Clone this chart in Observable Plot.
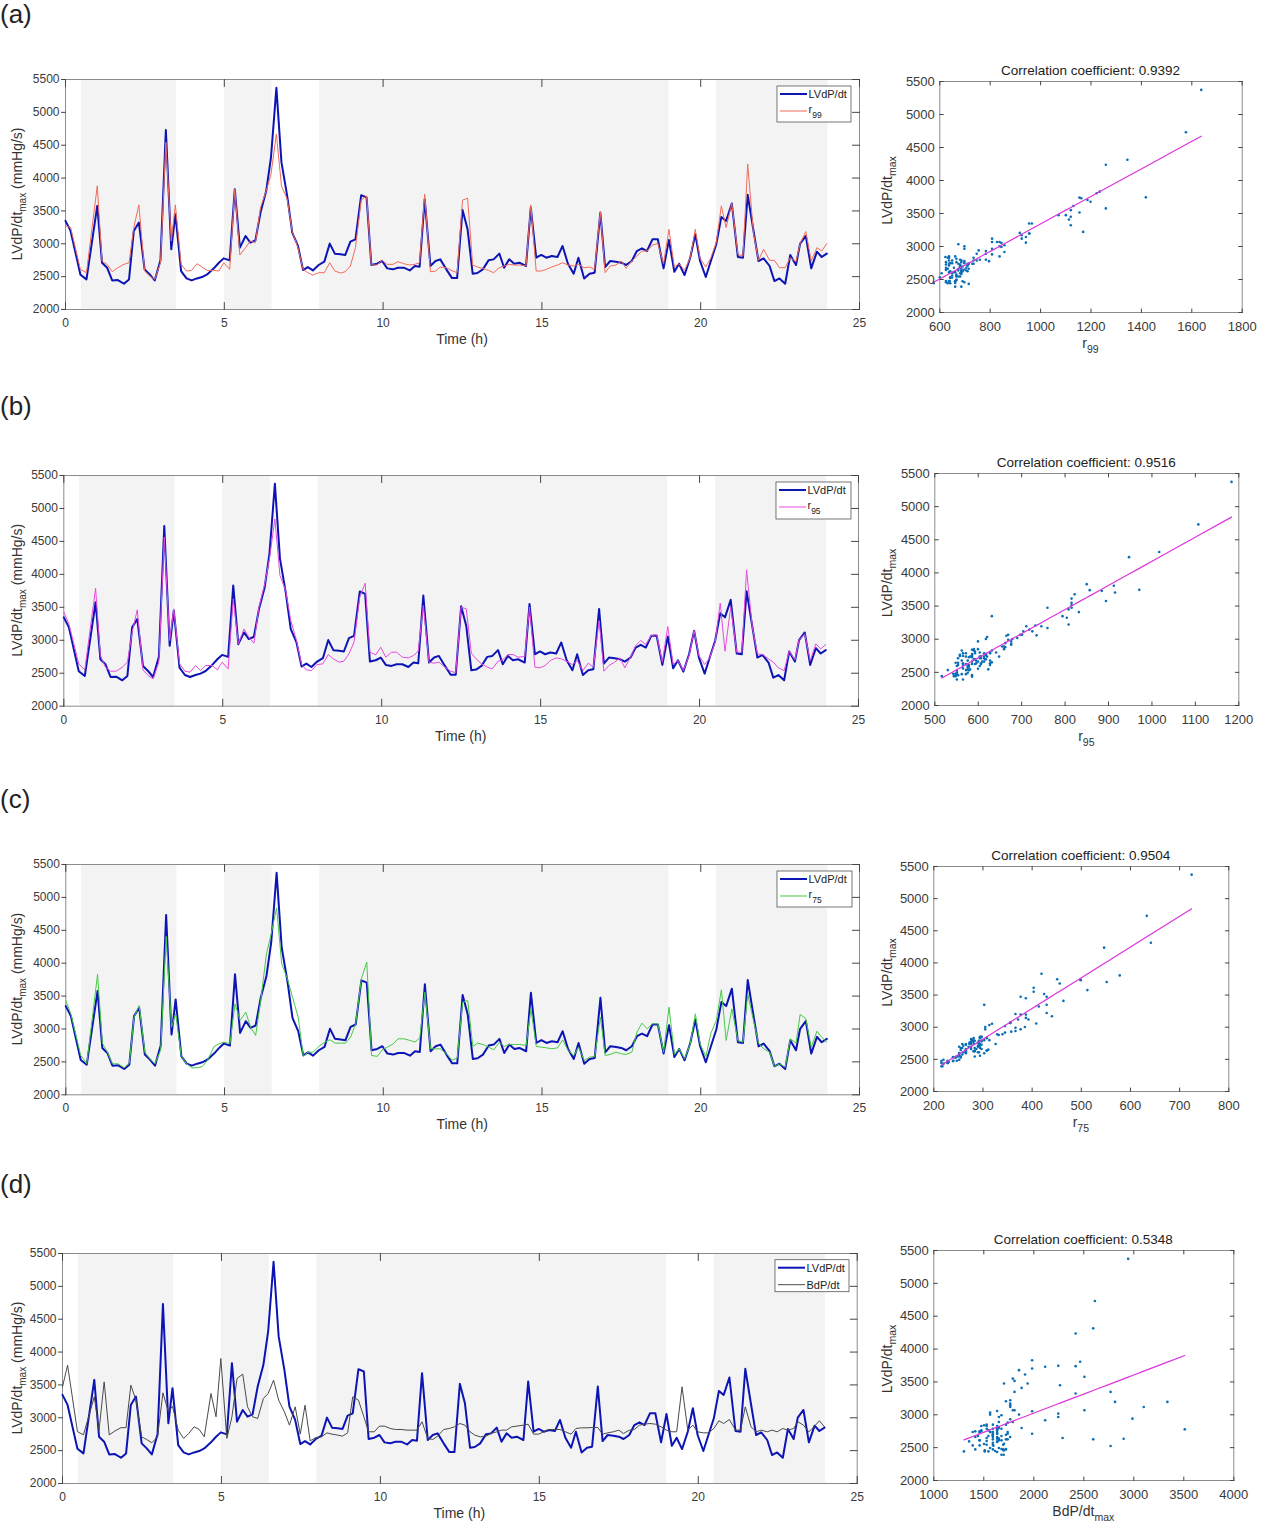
<!DOCTYPE html>
<html>
<head>
<meta charset="utf-8">
<script src="https://cdn.jsdelivr.net/npm/d3@7"></script>
<script src="https://cdn.jsdelivr.net/npm/@observablehq/plot@0.6"></script>
<style>
  body { margin: 0; background: #fff; }
  #page { position: relative; width: 1280px; height: 1527px; font-family: "Liberation Sans", Arial, sans-serif; color: #333; }
  .abs { position: absolute; }
  .tag { position: absolute; left: 0; font-size: 26px; color: #222; line-height: 1; }
</style>
</head>
<body>
<div id="page"></div>
<script>
// ---------------- DATA ----------------
// sample times (h)
const hours = [
  0, 0.16, 0.47, 0.66, 1.0, 1.15, 1.31, 1.47, 1.65, 1.84, 2.0,
  2.15, 2.31, 2.49, 2.65, 2.81, 2.99, 3.16, 3.33, 3.46, 3.64, 3.81, 3.97,
  4.14, 4.30, 4.46, 4.67, 4.83, 4.98, 5.17, 5.33, 5.49, 5.67, 5.82, 5.98,
  6.14, 6.32, 6.47, 6.64, 6.80, 6.98, 7.14, 7.32, 7.48, 7.63, 7.79, 7.97,
  8.15, 8.32, 8.48, 8.66, 8.81, 8.97, 9.13, 9.31, 9.48, 9.63, 9.81, 9.97,
  10.13, 10.31, 10.47, 10.65, 10.84, 11.0, 11.15, 11.31, 11.49, 11.65, 11.80, 11.99,
  12.17, 12.33, 12.50, 12.66, 12.82, 12.97, 13.14, 13.32, 13.48, 13.66, 13.81, 13.97,
  14.13, 14.29, 14.50, 14.65, 14.82, 14.98, 15.14, 15.31, 15.49, 15.65, 15.82,
  16.0, 16.15, 16.33, 16.50, 16.66, 16.84, 16.99, 17.15, 17.33, 17.50, 17.65, 17.83,
  17.99, 18.15, 18.31, 18.48, 18.65, 18.83, 19.0, 19.17, 19.32, 19.49, 19.67, 19.83,
  19.98, 20.16, 20.32, 20.49, 20.65, 20.80, 20.98, 21.17, 21.33, 21.48, 21.66, 21.82,
  21.98, 22.17, 22.32, 22.48, 22.66, 22.82, 23.0, 23.13, 23.31, 23.48, 23.66, 23.81, 23.97
];
// LVdP/dt max (mmHg/s)
const lvdp = [
  3348, 3196, 2530, 2458, 3577, 2712, 2636, 2443, 2448, 2392, 2458,
  3196, 3323, 2611, 2534, 2443, 2748, 4732, 2916, 3450, 2585, 2473, 2443,
  2473, 2494, 2534, 2626, 2712, 2778, 2748, 3831, 2941, 3119, 3018, 3053,
  3475, 3806, 4315, 5373, 4238, 3730, 3170, 2967, 2600, 2646, 2595, 2677,
  2728, 3003, 2850, 2840, 2830, 3033, 3068, 3740, 3704, 2677, 2697, 2738,
  2626, 2611, 2636, 2636, 2595, 2662, 2651, 3679, 2662, 2738, 2763, 2611,
  2478, 2478, 3516, 3221, 2545, 2555, 2611, 2748, 2763, 2850, 2636, 2763,
  2697, 2712, 2662, 3551, 2788, 2830, 2788, 2814, 2799, 2967, 2697,
  2545, 2788, 2473, 2545, 2560, 3475, 2646, 2738, 2728, 2712, 2677, 2738,
  2890, 2931, 2890, 3068, 3068, 2626, 3058, 2575, 2697, 2524, 2788, 3145,
  2738, 2494, 2738, 2992, 3409, 3348, 3613, 2799, 2788, 3745, 3206, 2738,
  2778, 2662, 2433, 2473, 2392, 2830, 2677, 3003, 3119, 2626, 2880, 2799, 2850
];
// r99 shown on the LVdP/dt scale (regression-scaled), panel (a)
const r99Fit = [
  3270, 3250, 2610, 2560, 3882, 2738, 2687, 2575, 2636, 2687, 2712,
  3247, 3592, 2585, 2509, 2458, 2712, 4544, 3043, 3592, 2687, 2585, 2595,
  2697, 2646, 2595, 2595, 2585, 2712, 2611, 3831, 2830, 2941, 3043, 3018,
  3551, 3806, 4060, 4671, 3882, 3679, 3186, 2941, 2611, 2560, 2524, 2560,
  2560, 2712, 2585, 2555, 2575, 2662, 2941, 3664, 3730, 2677, 2677, 2748,
  2687, 2687, 2728, 2697, 2677, 2687, 2712, 3755, 2575, 2585, 2646, 2636,
  2590, 2560, 3664, 3694, 2677, 2646, 2626, 2595, 2560, 2636, 2662, 2687,
  2677, 2677, 2662, 3592, 2585, 2585, 2611, 2646, 2677, 2712, 2677,
  2662, 2687, 2636, 2646, 2611, 3491, 2560, 2662, 2677, 2738, 2626, 2738,
  2814, 2890, 2890, 2982, 3003, 2697, 3221, 2646, 2697, 2595, 2788, 3221,
  2778, 2646, 2788, 3018, 3577, 3247, 3613, 2840, 2814, 4213, 3170, 2748,
  2916, 2748, 2748, 2636, 2636, 2788, 2728, 3003, 3186, 2738, 2941, 2890, 3003
];
// r95 regression-scaled, panel (b)
const r95Fit = [
  3426, 3249, 2642, 2551, 3790, 2769, 2592, 2531, 2531, 2592, 2668,
  3123, 3462, 2551, 2465, 2415, 2668, 4564, 2996, 3477, 2642, 2531, 2516,
  2617, 2541, 2617, 2617, 2551, 2668, 2566, 3629, 2946, 3173, 3047, 2956,
  3502, 3856, 4236, 4842, 3983, 3755, 3300, 2996, 2632, 2551, 2541, 2632,
  2642, 2784, 2718, 2668, 2683, 2794, 2971, 3654, 3866, 2819, 2779, 2895,
  2743, 2819, 2819, 2743, 2733, 2769, 2834, 3527, 2668, 2652, 2668, 2592,
  2530, 2510, 3502, 3477, 2804, 2718, 2642, 2592, 2566, 2683, 2703, 2784,
  2784, 2743, 2754, 3502, 2592, 2582, 2617, 2693, 2733, 2718, 2683,
  2632, 2693, 2541, 2652, 2592, 3300, 2531, 2617, 2668, 2733, 2582, 2743,
  2920, 2996, 2936, 3072, 3087, 2668, 3209, 2632, 2693, 2541, 2769, 3148,
  2769, 2632, 2733, 2971, 3563, 2834, 3502, 2819, 2819, 4069, 3199, 2794,
  2784, 2718, 2668, 2582, 2541, 2834, 2703, 3006, 3098, 2693, 2946, 2870, 2936
];
// r75 regression-scaled, panel (c)
const r75Fit = [
  3433, 3231, 2598, 2471, 3829, 2785, 2648, 2471, 2471, 2410, 2481,
  3180, 3357, 2648, 2547, 2471, 2684, 4406, 3028, 3231, 2583, 2471, 2410,
  2410, 2430, 2522, 2734, 2775, 2800, 2775, 3383, 3130, 3256, 3028, 2902,
  3433, 4143, 4446, 4842, 3991, 3763, 3484, 3180, 2583, 2648, 2648, 2734,
  2800, 2836, 2785, 2785, 2785, 2876, 3079, 3763, 4016, 2598, 2583, 2684,
  2724, 2775, 2851, 2851, 2826, 2800, 2866, 3560, 2699, 2699, 2699, 2623,
  2527, 2560, 3408, 3433, 2734, 2785, 2765, 2724, 2684, 2800, 2734, 2765,
  2765, 2765, 2750, 3307, 2734, 2724, 2714, 2699, 2714, 2836, 2674,
  2598, 2724, 2522, 2572, 2583, 3180, 2598, 2613, 2648, 2623, 2613, 2648,
  2952, 3089, 3003, 3079, 3079, 2648, 3332, 2613, 2699, 2547, 2775, 3231,
  2775, 2583, 2937, 3130, 3596, 2826, 3307, 2826, 2800, 3535, 3130, 2785,
  2699, 2648, 2431, 2471, 2420, 2851, 2785, 3221, 3155, 2724, 2967, 2876, 2800
];
// BdP/dt regression-scaled, panel (d)
const bdpFit = [
  3471, 3801, 2790, 2740, 3319, 2812, 3547, 2740, 2800, 2850, 2850,
  3497, 3268, 2710, 2670, 2619, 2710, 3380, 3091, 3177, 2812, 2685, 2761,
  2863, 2822, 2710, 3370, 3015, 3902, 2685, 3015, 3598, 3664, 3167, 3015,
  2989, 3294, 3370, 3573, 3268, 3091, 2888, 3167, 2751, 3192, 2649, 2700,
  2710, 2771, 2751, 2736, 2720, 2771, 3319, 3268, 3015, 2787, 2787, 2873,
  2873, 2837, 2822, 2822, 2812, 2812, 2812, 2939, 2685, 2670, 2720, 2822,
  2837, 2863, 2913, 2888, 2787, 2736, 2710, 2720, 2761, 2787, 2812, 2812,
  2863, 2873, 2888, 2903, 2751, 2751, 2787, 2822, 2822, 2822, 2787,
  2751, 2837, 2847, 2847, 2852, 2852, 2751, 2771, 2787, 2812, 2761, 2812,
  2822, 2888, 2903, 2913, 2903, 2863, 2812, 2787, 2787, 3471, 2812, 2888,
  2787, 2771, 2771, 2837, 2954, 2913, 2974, 2812, 2812, 3167, 2863, 2787,
  2812, 2787, 2812, 2787, 2837, 2812, 2837, 2939, 2888, 2787, 2873, 2954, 2863
];
// fitted regression lines (a point on the line and its slope)
const reg99 = { x0: 603, y0: 2515, slope: 2.084 };
const reg95 = { x0: 517, y0: 2418, slope: 3.638 };
const reg75 = { x0: 210, y0: 2384, slope: 4.778 };
const regBdP = { x0: 1310, y0: 2624, slope: 0.581 };
const corrText = ["0.9392", "0.9516", "0.9504", "0.5348"];
// shaded periods (h)
const bands = [
  { start: 0.5, end: 3.5 }, { start: 5, end: 6.5 }, { start: 8, end: 19 }, { start: 20.5, end: 24 }
];
// tick labels
const timeTicks = [0, 5, 10, 15, 20, 25];
const lvTicks = [2000, 2500, 3000, 3500, 4000, 4500, 5000, 5500];
const r99Ticks = [600, 800, 1000, 1200, 1400, 1600, 1800];
const r95Ticks = [500, 600, 700, 800, 900, 1000, 1100, 1200];
const r75Ticks = [200, 300, 400, 500, 600, 700, 800];
const bdpTicks = [1000, 1500, 2000, 2500, 3000, 3500, 4000];

// ---------------- LAYOUT / STYLE ----------------
const FONT = '"Liberation Sans", Arial, Helvetica, sans-serif';
const BLUE = "#0c14b4";
const rows = [
  { tag: "(a)", tagTop: 1, fit: r99Fit, color: "#f26b5b", name: "r", sub: "99",
    ts: { L: 65, R: 859, T: 79, B: 309 }, legend: { x: 777, y: 86, w: 74, h: 36 },
    sc: { L: 939.3, R: 1241.7, T: 80.7, B: 311.7 }, xDomain: [600, 1800], xTicks: r99Ticks, reg: reg99, corr: corrText[0], xName: "r", xSub: "99" },
  { tag: "(b)", tagTop: 393, fit: r95Fit, color: "#e64ade", name: "r", sub: "95",
    ts: { L: 63.3, R: 858, T: 475, B: 705.7 }, legend: { x: 776, y: 482, w: 75, h: 37 },
    sc: { L: 934.3, R: 1238.3, T: 473.3, B: 705.3 }, xDomain: [500, 1200], xTicks: r95Ticks, reg: reg95, corr: corrText[1], xName: "r", xSub: "95" },
  { tag: "(c)", tagTop: 786, fit: r75Fit, color: "#45c945", name: "r", sub: "75",
    ts: { L: 65.3, R: 859, T: 864, B: 1094.3 }, legend: { x: 777, y: 871, w: 75, h: 36 },
    sc: { L: 933.3, R: 1228.3, T: 865.7, B: 1090.7 }, xDomain: [200, 800], xTicks: r75Ticks, reg: reg75, corr: corrText[2], xName: "r", xSub: "75" },
  { tag: "(d)", tagTop: 1171, fit: bdpFit, color: "#4a4a4a", name: "BdP/dt", sub: "",
    ts: { L: 62, R: 856.7, T: 1253.3, B: 1483.3 }, legend: { x: 775, y: 1260, w: 74, h: 32 },
    sc: { L: 933.3, R: 1233.3, T: 1250, B: 1480 }, xDomain: [1000, 4000], xTicks: bdpTicks, reg: regBdP, corr: corrText[3], xName: "BdP/dt", xSub: "max" }
];

const TICK = { draw(context, l) { context.moveTo(0, 0); context.lineTo(0, -l); } };
function frameTicks(xt, yt, len, leftOut, leftLen) {
  const o = { length: len, anchor: "start", shape: TICK, stroke: "#444", strokeWidth: 1 };
  return [
    Plot.vector(xt, { ...o, x: d => d, frameAnchor: "bottom", rotate: 0 }),
    Plot.vector(xt, { ...o, x: d => d, frameAnchor: "top", rotate: 180 }),
    Plot.vector(yt, { ...o, length: leftLen || len, y: d => d, frameAnchor: "left", rotate: leftOut ? 270 : 90 }),
    Plot.vector(yt, { ...o, y: d => d, frameAnchor: "right", rotate: 270 })
  ];
}
function addText(svg, x, y, main, sub, size, opts = {}) {
  const t = svg.append("text")
    .attr("transform", `translate(${x},${y})` + (opts.rotate ? " rotate(-90)" : ""))
    .attr("text-anchor", opts.anchor || "middle")
    .attr("font-family", FONT).attr("font-size", size).attr("fill", opts.fill || "#333");
  t.append("tspan").text(main);
  if (sub) {
    t.append("tspan").attr("dy", opts.subDy || 4).attr("font-size", opts.subSize || size * 0.72).text(sub);
    if (opts.after) t.append("tspan").attr("dy", -(opts.subDy || 4)).text(opts.after);
  } else if (opts.after) t.append("tspan").text(opts.after);
  return t;
}

const page = document.getElementById("page");
const fmt = d3.format("d");

rows.forEach(row => {
  // panel tag
  const tag = document.createElement("div");
  tag.className = "tag"; tag.style.top = row.tagTop + "px"; tag.textContent = row.tag;
  page.appendChild(tag);

  // ---------- time series ----------
  const ts = row.ts, W = 880, mt = 14, mb = 50;
  const top = ts.T - mt, H = mt + (ts.B - ts.T) + mb;
  const series = hours.map((t, i) => ({ t, lv: lvdp[i], fit: row.fit[i] }));
  const tp = Plot.plot({
    width: W, height: H,
    marginLeft: ts.L, marginRight: W - ts.R, marginTop: mt, marginBottom: mb,
    x: { domain: [0, 25] }, y: { domain: [2000, 5500] },
    style: { fontFamily: FONT, fontSize: "12px", color: "#3a3a3a", background: "transparent", overflow: "visible" },
    marks: [
      Plot.rect(bands, { x1: "start", x2: "end", fill: "#f3f3f4" }),
      Plot.frame({ stroke: "#8c8c8c" }),
      Plot.line(series, { x: "t", y: "lv", stroke: BLUE, strokeWidth: 2 }),
      Plot.line(series, { x: "t", y: "fit", stroke: row.color, strokeWidth: 1 }),
      ...frameTicks(timeTicks, lvTicks, 7, true, 4),
      Plot.axisX({ ticks: timeTicks, tickSize: 0, tickPadding: 9, tickFormat: fmt, label: null }),
      Plot.axisY({ ticks: lvTicks, tickSize: 0, tickPadding: 6, tickFormat: fmt, label: null })
    ]
  });
  const tdiv = document.createElement("div");
  tdiv.className = "abs"; tdiv.style.left = "0px"; tdiv.style.top = top + "px";
  tdiv.appendChild(tp); page.appendChild(tdiv);
  const tsvg = d3.select(tp);
  addText(tsvg, (ts.L + ts.R) / 2, ts.B + 35 - top, "Time (h)", "", 14);
  addText(tsvg, 22, (ts.T + ts.B) / 2 - top, "LVdP/dt", "max", 14, { rotate: true, after: " (mmHg/s)", subDy: 4, subSize: 10 });
  // legend
  const lg = row.legend, by = lg.y - top;
  const g = tsvg.append("g");
  g.append("rect").attr("x", lg.x).attr("y", by).attr("width", lg.w).attr("height", lg.h)
    .attr("fill", "#fff").attr("stroke", "#555").attr("stroke-width", 0.8);
  const l1 = by + 8, l2 = by + 25;
  g.append("line").attr("x1", lg.x + 3).attr("x2", lg.x + 30).attr("y1", l1).attr("y2", l1).attr("stroke", BLUE).attr("stroke-width", 2);
  addText(g, lg.x + 31.5, l1 + 4, "LVdP/dt", "", 11, { anchor: "start", fill: "#222" });
  g.append("line").attr("x1", lg.x + 3).attr("x2", lg.x + 30).attr("y1", l2).attr("y2", l2).attr("stroke", row.color).attr("stroke-width", 1);
  addText(g, lg.x + 31.5, l2 + (row.sub ? 2 : 4), row.name, row.sub, 11, { anchor: "start", fill: "#222", subDy: 5, subSize: 8.5 });

  // ---------- scatter ----------
  const sc = row.sc, SW = 400, smt = 32, smb = 52, sLeft = 880;
  const stop = sc.T - smt, SH = smt + (sc.B - sc.T) + smb;
  // predictor values recovered from the regression-scaled series via the fitted line
  const pts = hours.map((t, i) => ({
    lv: lvdp[i], fit: row.fit[i], x: row.reg.x0 + (row.fit[i] - row.reg.y0) / row.reg.slope
  })).sort((a, b) => a.x - b.x);
  const sp = Plot.plot({
    width: SW, height: SH,
    marginLeft: sc.L - sLeft, marginRight: sLeft + SW - sc.R, marginTop: smt, marginBottom: smb,
    x: { domain: row.xDomain }, y: { domain: [2000, 5500] },
    style: { fontFamily: FONT, fontSize: "13px", color: "#3a3a3a", background: "transparent", overflow: "visible" },
    marks: [
      Plot.frame({ stroke: "#8c8c8c" }),
      Plot.dot(pts, { x: "x", y: "lv", r: 1.3, fill: "#0a6db6", stroke: null }),
      Plot.line(pts, { x: "x", y: "fit", stroke: "#dc34dc", strokeWidth: 1.2 }),
      ...frameTicks(row.xTicks, lvTicks, 3.5, false),
      Plot.axisX({ ticks: row.xTicks, tickSize: 0, tickPadding: 9.5, tickFormat: fmt, label: null }),
      Plot.axisY({ ticks: lvTicks, tickSize: 0, tickPadding: 5, tickFormat: fmt, label: null })
    ]
  });
  const sdiv = document.createElement("div");
  sdiv.className = "abs"; sdiv.style.left = sLeft + "px"; sdiv.style.top = stop + "px";
  sdiv.appendChild(sp); page.appendChild(sdiv);
  const ssvg = d3.select(sp);
  const cx = (sc.L + sc.R) / 2 - sLeft;
  addText(ssvg, cx, sc.T - 6.5 - stop, "Correlation coefficient: " + row.corr, "", 13.5, { fill: "#222" });
  addText(ssvg, cx, sc.B + 36 - stop, row.xName, row.xSub, 14, { subDy: 5, subSize: 10.5 });
  addText(ssvg, 12, (sc.T + sc.B) / 2 - 6 - stop, "LVdP/dt", "max", 14, { rotate: true, subDy: 4, subSize: 10.5 });
});
</script>
</body>
</html>
